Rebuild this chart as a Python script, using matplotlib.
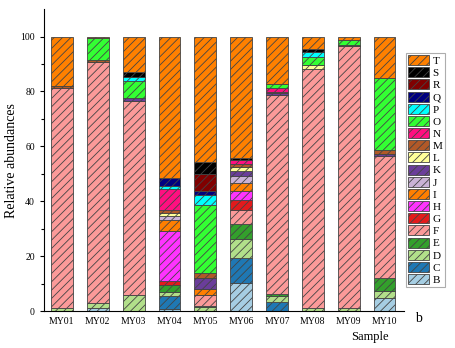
import numpy as np
import matplotlib
matplotlib.use("Agg")
import matplotlib.pyplot as plt
from matplotlib.patches import Patch

plt.rcParams['font.family'] = ['Liberation Serif', 'DejaVu Serif']
plt.rcParams['hatch.linewidth'] = 0.6

samples = ['MY01', 'MY02', 'MY03', 'MY04', 'MY05', 'MY06', 'MY07', 'MY08', 'MY09', 'MY10']
groups = ['B', 'C', 'D', 'E', 'F', 'G', 'H', 'I', 'J', 'K',
          'L', 'M', 'N', 'O', 'P', 'Q', 'R', 'S', 'T']

# relative abundance of each group per sample (MY01..MY10)
B = [0, 1.2, 0, 0.6, 0, 10.3, 0, 0, 0, 4.8]
C = [0, 0, 0, 5.0, 0, 8.9, 3.4, 0, 0, 0]
D = [1.3, 1.6, 5.8, 1.4, 1.4, 6.9, 2.1, 1.3, 1.3, 2.5]
E = [0, 0, 0, 2.5, 0.4, 5.8, 0.9, 0, 0, 4.6]
F = [80.0, 87.9, 70.7, 0, 4.0, 4.8, 72.4, 87.0, 95.2, 44.5]
G = [0, 0, 0, 1.4, 0, 3.9, 0, 0, 0, 0]
H = [0, 0, 0, 18.3, 0, 3.1, 0, 0, 0, 0]
I = [0, 0, 0, 4.1, 2.2, 3.0, 0, 0, 0, 0]
J = [0, 0, 0, 1.2, 0, 2.5, 0, 0, 0, 0]
K = [0, 0, 1.2, 0, 4.2, 1.7, 0.6, 0, 0, 0.8]
L = [0, 0, 0, 1.2, 0, 1.6, 0, 1.2, 0, 0]
M = [0.5, 0.6, 0, 1.3, 1.5, 1.2, 0.5, 0, 0.5, 1.5]
N = [0, 0, 0, 7.5, 0, 1.2, 1.2, 0, 0, 0]
O = [0, 8.2, 6.0, 0, 25.1, 0, 1.6, 3.0, 1.8, 26.1]
P = [0, 0, 1.5, 1.1, 3.4, 0, 0, 1.8, 0, 0]
Q = [0, 0, 0, 3.0, 1.5, 0, 0, 0, 0, 0]
R = [0, 0, 0, 0, 6.1, 0, 0, 0, 0, 0]
S = [0, 0, 1.8, 0, 4.5, 0.8, 0, 1.0, 0, 0]
T = [18.2, 0.5, 13.0, 51.4, 45.7, 44.3, 17.3, 4.7, 1.2, 15.2]

data = [B, C, D, E, F, G, H, I, J, K, L, M, N, O, P, Q, R, S, T]
colors = ['#a6cee3', '#1f78b4', '#b2df8a', '#33a02c', '#fb9a99', '#e31a1c',
          '#ff33ff', '#ff7f00', '#cab2d6', '#6a3d9a', '#ffff99', '#b15928',
          '#ff0f80', '#33ff33', '#00ffff', '#000080', '#800000', '#000000',
          '#ff8000']

fig = plt.figure(figsize=(4.56, 3.48), dpi=100)
ax = fig.add_axes([0.0965, 0.106, 0.79, 0.868])

x = np.arange(1, len(samples) + 1)
bottom = np.zeros(len(samples))
for vals, col in zip(data, colors):
    vals = np.array(vals)
    ax.bar(x, vals, 0.61, bottom=bottom, color=col, edgecolor='#444444',
           linewidth=0.6, hatch='////')
    bottom += vals

ax.set_xlim(0.5, 10.55)
ax.set_ylim(0, 110)
ax.set_yticks([0, 20, 40, 60, 80, 100])
ax.set_yticks(np.arange(10, 110, 20), minor=True)
ax.set_xticks(x)
ax.set_xticklabels(samples, fontsize=7)
ax.tick_params(axis='y', labelsize=7, length=3, width=0.8)
ax.tick_params(axis='y', which='minor', length=2, width=0.8)
ax.tick_params(axis='x', length=0, pad=4)
ax.spines['top'].set_visible(False)
ax.spines['right'].set_visible(False)
ax.set_ylabel('Relative abundances', fontsize=10, labelpad=2)
ax.set_xlabel('Sample', fontsize=9, labelpad=1)
ax.xaxis.set_label_coords(0.905, -0.065)
fig.text(0.91, 0.075, 'b', fontsize=10)

handles = [Patch(facecolor=c, edgecolor='#444444', hatch='////', linewidth=0.6, label=g)
           for g, c in zip(groups, colors)]
leg = ax.legend(handles[::-1], groups[::-1], loc='upper left',
                bbox_to_anchor=(1.005, 0.855), fontsize=8, frameon=True,
                fancybox=False, edgecolor='#999999', handlelength=1.9,
                handleheight=1.0, labelspacing=0.125, handletextpad=0.3,
                borderpad=0.2, borderaxespad=0)
leg.get_frame().set_linewidth(0.8)

fig.savefig('out.png', dpi=100)
